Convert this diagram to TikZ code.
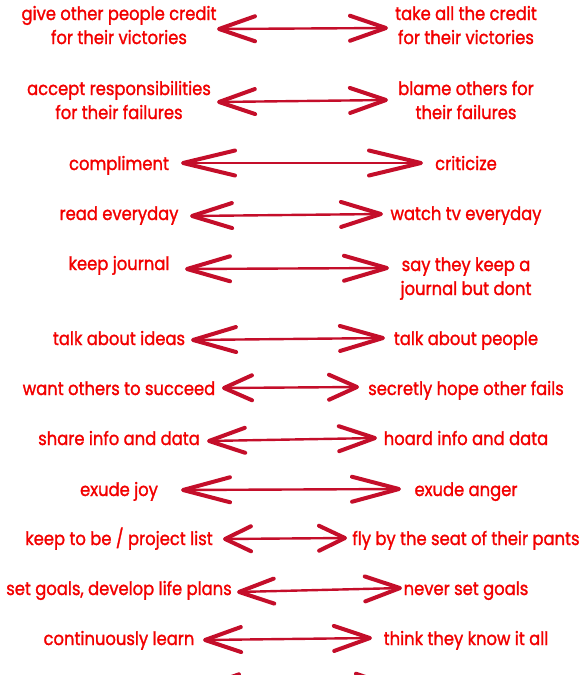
\documentclass[tikz,border=0pt]{standalone}
\usepackage{fontspec}
\setmainfont{Poppins}[FakeStretch=0.885, FakeBold=1.4]
\usepackage{xcolor}
\usepackage{tikz}
\usetikzlibrary{arrows.meta}
\definecolor{txtred}{RGB}{242,0,0}
\definecolor{ink}{RGB}{196,14,42}
\tikzset{
  say/.style={text=txtred, anchor=base, align=center, inner sep=0pt,
    font=\fontsize{18.5}{24}\selectfont},
  dbl/.style={{Straight Barb[length=#1,width=25pt,line width=4pt,round]}-%
    {Straight Barb[length=#1,width=25pt,line width=4pt,round]},
    line width=2.4pt, draw=ink}
}

\begin{document}
\begin{tikzpicture}[x=1pt, y=-1pt]
  \path[use as bounding box, clip] (0,0) rectangle (585,675);
  % left column (two-line texts sit on their last baseline)
  \node[say] (give)   at (119,44)  {give other people credit\\for their victories};
  \node[say] (accept) at (119,119) {accept responsibilities\\for their failures};
  \node[say] (compl)  at (119,170) {compliment};
  \node[say] (read)   at (119,220) {read everyday};
  \node[say] (keep)   at (119,270) {keep journal};
  \node[say] (ideas)  at (119,345) {talk about ideas};
  \node[say] (want)   at (119,395) {want others to succeed};
  \node[say] (share)  at (119,445) {share info and data};
  \node[say] (joy)    at (119,496) {exude joy};
  \node[say] (list)   at (119,545) {keep to be / project list};
  \node[say] (goals)  at (119,595) {set goals, develop life plans};
  \node[say] (learn)  at (119,645) {continuously learn};
  % right column
  \node[say] (take)   at (466,44)  {take all the credit\\for their victories};
  \node[say] (blame)  at (466,119) {blame others for\\their failures};
  \node[say] (crit)   at (466,170) {criticize};
  \node[say] (watch)  at (466,220) {watch tv everyday};
  \node[say] (claim)  at (466,295) {say they keep a\\journal but dont};
  \node[say] (people) at (466,345) {talk about people};
  \node[say] (hope)   at (466,395) {secretly hope other fails};
  \node[say] (hoard)  at (466,445) {hoard info and data};
  \node[say] (anger)  at (466,496) {exude anger};
  \node[say] (fly)    at (466,545) {fly by the seat of their pants};
  \node[say] (never)  at (466,595) {never set goals};
  \node[say] (know)   at (466,645) {think they know it all};
  % arrow tips
  \coordinate (w1) at (217,29);  \coordinate (e1) at (388,28);
  \coordinate (w2) at (217,102); \coordinate (e2) at (388,100);
  \coordinate (w3) at (181,163); \coordinate (e3) at (423,163);
  \coordinate (w4) at (190,216); \coordinate (e4) at (383,214);
  \coordinate (w5) at (185,269); \coordinate (e5) at (389,268);
  \coordinate (w6) at (191,340); \coordinate (e6) at (385,338);
  \coordinate (w7) at (222,388); \coordinate (e7) at (359,387);
  \coordinate (w8) at (207,441); \coordinate (e8) at (377,438);
  \coordinate (w9) at (181,490); \coordinate (e9) at (401,489);
  \coordinate (w10) at (223,539); \coordinate (e10) at (347,538);
  \coordinate (w11) at (237,592); \coordinate (e11) at (402,588);
  \coordinate (w12) at (203,640); \coordinate (e12) at (372,638);
  \coordinate (w13) at (201,687); \coordinate (e13) at (394,686);
  \draw[dbl=36pt] (w1) -- (e1);
  \draw[dbl=36pt] (w2) -- (e2);
  \draw[dbl=52pt] (w3) -- (e3);
  \draw[dbl=40pt] (w4) -- (e4);
  \draw[dbl=43pt] (w5) -- (e5);
  \draw[dbl=43pt] (w6) -- (e6);
  \draw[dbl=28pt] (w7) -- (e7);
  \draw[dbl=36pt] (w8) -- (e8);
  \draw[dbl=47pt] (w9) -- (e9);
  \draw[dbl=26pt] (w10) -- (e10);
  \draw[dbl=35pt] (w11) -- (e11);
  \draw[dbl=36pt] (w12) -- (e12);
  \draw[dbl=36pt] (w13) -- (e13);
\end{tikzpicture}
\end{document}
